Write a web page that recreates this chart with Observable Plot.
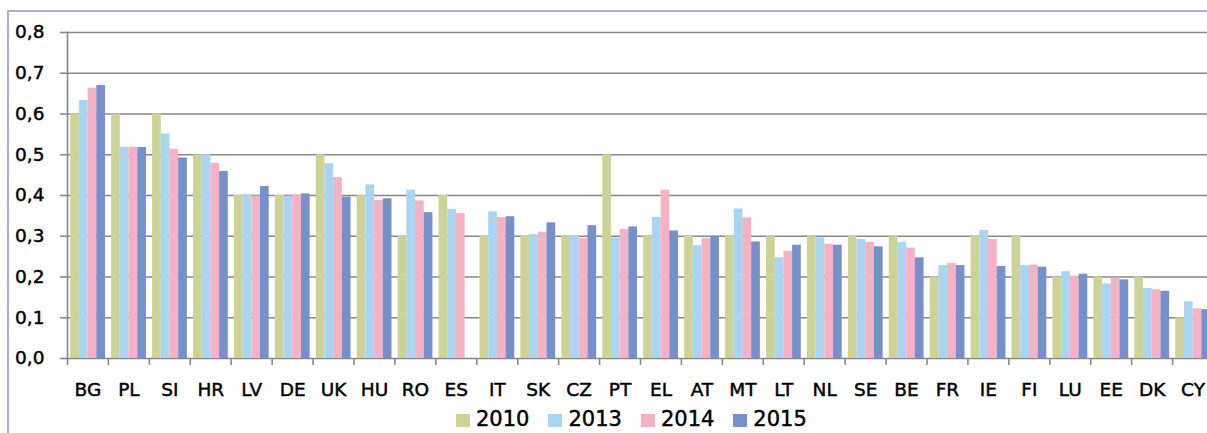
<!DOCTYPE html>
<html>
<head>
<meta charset="utf-8">
<script src="https://cdn.jsdelivr.net/npm/d3@7"></script>
<script src="https://cdn.jsdelivr.net/npm/@observablehq/plot@0.6"></script>
<style>
  html, body { margin: 0; padding: 0; overflow: hidden; background: #fff; width: 1207px; height: 433px; }
  #frame { position: absolute; left: 7px; top: 10px; width: 1400px; height: 600px; border-left: 2px solid #b5a8d3; border-top: 2px solid #b5a8d3; box-sizing: border-box; }
  #chart { position: absolute; left: 0; top: 0; width: 1213px; }
  #chart svg { max-width: none !important; }
  #chart svg text { stroke: #000; stroke-width: 0.45px; }
  #legend { position: absolute; left: 456px; top: 409px; display: flex; gap: 19px; font-family: "DejaVu Sans", sans-serif; font-size: 21px; line-height: 21px; color: #000; -webkit-text-stroke: 0.45px #000; }
  .item { display: flex; align-items: center; gap: 6px; }
  .sw { width: 14px; height: 13px; margin-top: 2px; }
</style>
</head>
<body>
<div id="frame"></div>
<div id="chart"></div>
<div id="legend"></div>
<script>
const countries = ["BG","PL","SI","HR","LV","DE","UK","HU","RO","ES","IT","SK","CZ","PT","EL","AT","MT","LT","NL","SE","BE","FR","IE","FI","LU","EE","DK","CY"];
const years = ["2010","2013","2014","2015"];
const v2010 = [0.600,0.600,0.600,0.500,0.400,0.400,0.500,0.400,0.300,0.400,0.300,0.300,0.300,0.500,0.300,0.300,0.300,0.300,0.300,0.300,0.300,0.200,0.300,0.300,0.200,0.200,0.200,0.100];
const v2013 = [0.633,0.518,0.551,0.500,0.402,0.398,0.478,0.426,0.413,0.366,0.360,0.304,0.300,0.296,0.346,0.277,0.367,0.247,0.296,0.292,0.285,0.228,0.314,0.228,0.213,0.183,0.172,0.139];
const v2014 = [0.663,0.518,0.513,0.479,0.398,0.402,0.444,0.388,0.387,0.356,0.346,0.310,0.295,0.317,0.413,0.294,0.345,0.263,0.280,0.285,0.271,0.233,0.292,0.229,0.202,0.197,0.169,0.122];
const v2015 = [0.670,0.518,0.492,0.459,0.422,0.404,0.396,0.392,0.358,null,0.348,0.333,0.326,0.323,0.313,0.300,0.286,0.278,0.278,0.274,0.247,0.228,0.226,0.224,0.207,0.193,0.165,0.120];
const yTicks = [0,0.1,0.2,0.3,0.4,0.5,0.6,0.7,0.8];
const colors = ["#cdd297","#a9d4f2","#f5b2c4","#7691c9"];

const series = [v2010, v2013, v2014, v2015];
const rows = series.map(vals => countries.map((c, i) => ({country: c, value: vals[i]})).filter(d => d.value != null));

const W = 1213, ML = 67;
const step = (W - ML) / countries.length;
const pad = 3.2, bw = 8.7;
const font = "DejaVu Sans";
const fmt = d => d.toFixed(1).replace(".", ",");

const barMarks = rows.map((data, i) => Plot.barY(data, {
  x: "country", y: "value", fill: colors[i],
  insetLeft: pad + i * bw,
  insetRight: step - pad - (i + 1) * bw
}));

const chart = Plot.plot({
  width: W, height: 400,
  marginLeft: ML, marginRight: 0, marginTop: 32, marginBottom: 42,
  style: {fontFamily: font, background: "transparent", overflow: "visible"},
  x: {domain: countries, padding: 0, round: false, axis: null},
  y: {domain: [0, 0.8], axis: null},
  marks: [
    Plot.gridY(yTicks, {stroke: "#878787", strokeOpacity: 1, strokeWidth: 1.6}),
    Plot.frame({anchor: "left", stroke: "#878787", strokeWidth: 1.6}),
    Plot.axisY({ticks: yTicks, label: null, tickSize: 7, tickPadding: 16, tickFormat: fmt, fontSize: 18.5, stroke: "#878787", strokeWidth: 1.6, fill: "#000"}),
    ...barMarks,
    Plot.axisX({label: null, tickSize: 7, tickFormat: null, dx: -step / 2, stroke: "#878787", strokeWidth: 1.6}),
    Plot.axisX({label: null, tickSize: 0, tickPadding: 24, fontSize: 18.5, fill: "#000"})
  ]
});
document.getElementById("chart").appendChild(chart);

const legend = document.getElementById("legend");
years.forEach((y, i) => {
  const it = document.createElement("div");
  it.className = "item";
  const sw = document.createElement("div");
  sw.className = "sw";
  sw.style.background = colors[i];
  const t = document.createElement("span");
  t.textContent = y;
  it.appendChild(sw); it.appendChild(t);
  legend.appendChild(it);
});
</script>
</body>
</html>
